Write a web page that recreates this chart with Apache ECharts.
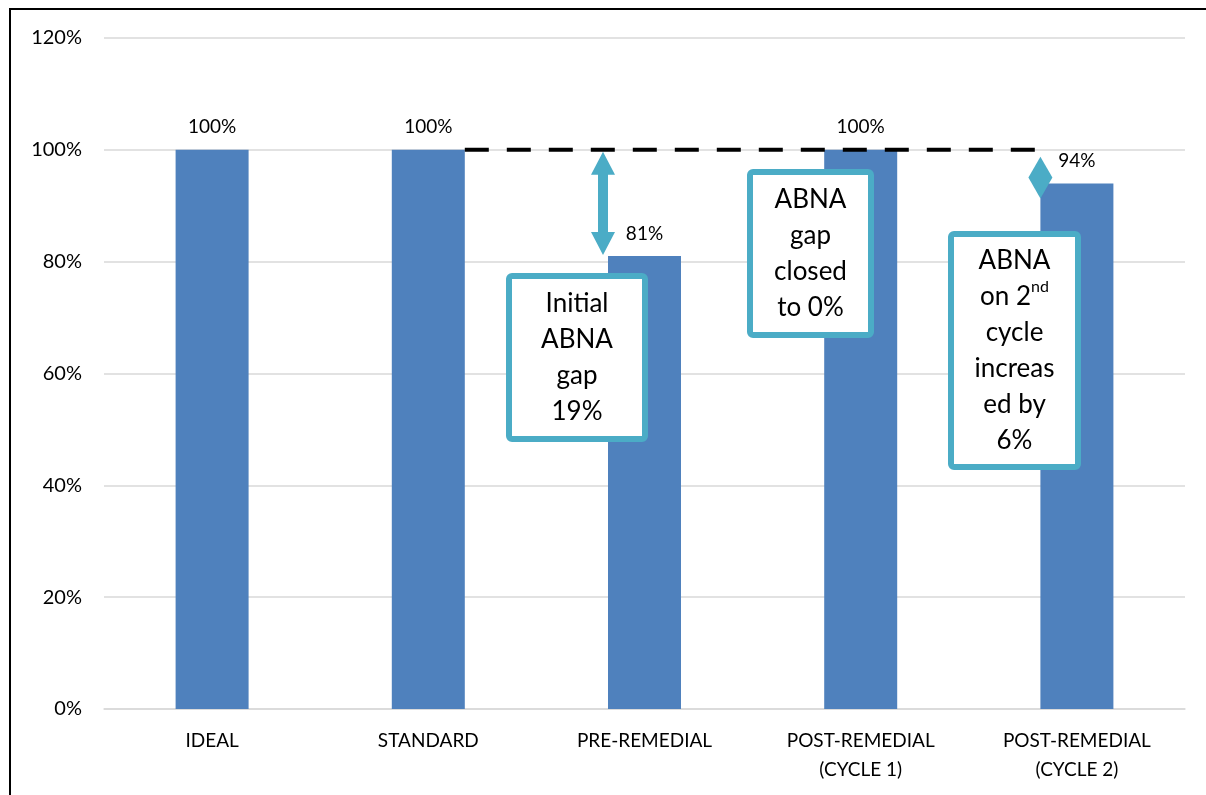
<!DOCTYPE html>
<html>
<head>
<meta charset="utf-8">
<script src="https://cdn.jsdelivr.net/npm/echarts@6/dist/echarts.min.js"></script>
<style>
  html, body { margin: 0; padding: 0; background: #fff; }
  #chart { width: 1206px; height: 795px; }
</style>
</head>
<body>
<div id="chart"></div>
<script>
const categories = ['IDEAL', 'STANDARD', 'PRE-REMEDIAL', 'POST-REMEDIAL\n(CYCLE 1)', 'POST-REMEDIAL\n(CYCLE 2)'];
const values = [100, 100, 81, 100, 94];
const yMax = 120;
const yStep = 20;

const BLUE = '#4F81BD';
const TEAL = '#4BACC6';
const FONT = 'Lato, "Open Sans", sans-serif';
const barW = 73;

const chart = echarts.init(document.getElementById('chart'));

chart.setOption({
  animation: false,
  backgroundColor: '#fff',
  grid: { left: 104, right: 21, top: 38, bottom: 86 },
  xAxis: {
    type: 'category',
    data: categories,
    axisLine: { lineStyle: { color: '#D9D9D9', width: 1.5 } },
    axisTick: { show: false },
    axisLabel: {
      color: '#000', fontFamily: FONT, fontSize: 19,
      lineHeight: 29, margin: 17, interval: 0
    }
  },
  yAxis: {
    type: 'value',
    min: 0, max: yMax, interval: yStep,
    axisLine: { show: false },
    axisTick: { show: false },
    splitLine: { lineStyle: { color: '#D9D9D9', width: 1.5 } },
    axisLabel: {
      color: '#000', fontFamily: FONT, fontSize: 20, margin: 22,
      formatter: v => v + '%'
    }
  },
  series: [{
    type: 'bar',
    data: values,
    barWidth: barW,
    itemStyle: { color: BLUE },
    label: {
      show: true, position: 'top', distance: 13,
      color: '#000', fontFamily: FONT, fontSize: 19,
      formatter: p => p.value + '%'
    }
  }]
});

// annotations, placed from the axes
const px = (i, v) => chart.convertToPixel({ gridIndex: 0 }, [categories[i], v]);
const y100 = px(1, 100)[1];
const y81 = px(2, values[2])[1];
const y94 = px(4, values[4])[1];
const lineX1 = px(1, 100)[0] + barW / 2;
const lineX2 = px(4, 100)[0] - barW / 2 - 3;

// double arrow for the 19% gap
const ax = px(2, 0)[0] - barW / 2 - 5;
const t1 = y100 + 2, t2 = y81 - 1, hl = 23, hw = 12, sw = 5;
const arrowPts = [
  [ax, t1], [ax + hw, t1 + hl], [ax + sw, t1 + hl], [ax + sw, t2 - hl],
  [ax + hw, t2 - hl], [ax, t2], [ax - hw, t2 - hl], [ax - sw, t2 - hl],
  [ax - sw, t1 + hl], [ax - hw, t1 + hl]
];

// small collapsed arrow for the 6% step
const dx = px(4, 0)[0] - barW / 2;
const diamondPts = [[dx, y100 + 7], [dx + 12, (y100 + y94) / 2 + 11], [dx, y94 + 15], [dx - 12, (y100 + y94) / 2 + 11]];

function box(x, y, w, h, text) {
  return [
    { type: 'rect', z: 100, shape: { x: x, y: y, width: w, height: h, r: 3 },
      style: { fill: '#fff', stroke: TEAL, lineWidth: 6 } },
    { type: 'text', z: 101, x: x + w / 2, y: y + h / 2,
      style: {
        text: text, fill: '#000', font: '26px ' + FONT,
        align: 'center', verticalAlign: 'middle', lineHeight: 36,
        rich: { sup: { fontSize: 16, fontFamily: FONT, verticalAlign: 'top', padding: [0, 0, 12, 0], fill: '#000', lineHeight: 36 } }
      } }
  ];
}

chart.setOption({
  graphic: [
    { type: 'rect', z: 100, shape: { x: 10, y: 9, width: 1260, height: 860 },
      style: { fill: 'none', stroke: '#000', lineWidth: 2 } },
    { type: 'line', z: 100, shape: { x1: lineX1, y1: y100, x2: lineX2, y2: y100 },
      style: { stroke: '#000', lineWidth: 4, lineDash: [24, 18] } },
    { type: 'polygon', z: 100, shape: { points: arrowPts }, style: { fill: TEAL } },
    { type: 'polygon', z: 100, shape: { points: diamondPts }, style: { fill: TEAL } }
  ].concat(
    box(509, 276, 136, 163, 'Initial\nABNA\ngap\n19%'),
    box(750, 172, 121, 163, 'ABNA\ngap\nclosed\nto 0%'),
    box(951, 234, 127, 233, 'ABNA\non 2{sup|nd}\ncycle\nincreas\ned by\n6%')
  )
});
</script>
</body>
</html>
